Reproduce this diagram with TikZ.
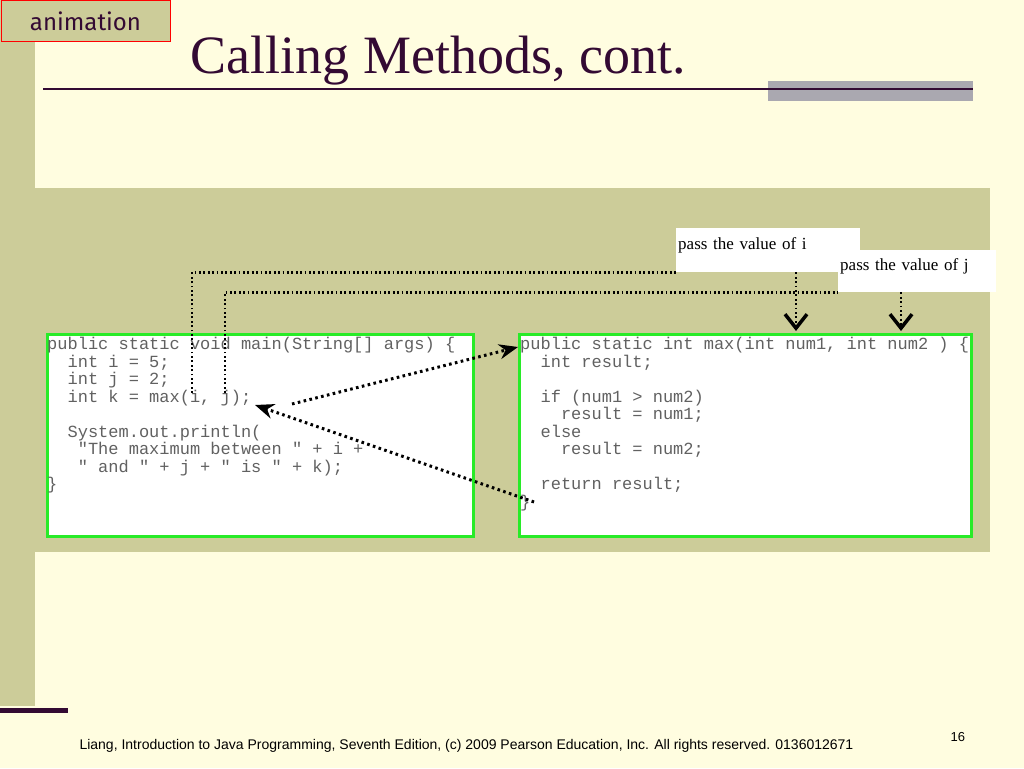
\documentclass[tikz,border=0pt]{standalone}
\usepackage{fontspec}
\setmainfont{Liberation Serif}
\setmonofont{Liberation Mono}
\newfontfamily\footfont{Liberation Sans}
\newfontfamily\animfont{Fira Sans}
\usepackage{tikz}
\usetikzlibrary{arrows.meta,positioning}
\definecolor{slidebg}{RGB}{255,253,224}
\definecolor{bandolive}{RGB}{204,204,153}
\definecolor{titlepurple}{RGB}{51,10,51}
\definecolor{bargrey}{RGB}{170,168,176}
\definecolor{boxgreen}{RGB}{40,235,40}
\tikzset{
    %Define standard arrow tip
    >={Stealth[length=19pt,width=15pt]},
    %Define style for code boxes
    codebox/.style={
             rectangle,
             draw=boxgreen, line width=3pt,
             fill=white,
             minimum height=202pt,
             inner sep=0pt},
    codetext/.style={
             inner sep=0pt,
             align=left,
             text=black!62,
             font=\ttfamily\fontsize{17}{17.5}\selectfont},
    passnode/.style={
             fill=white,
             anchor=north west,
             inner xsep=2pt, inner ysep=0pt,
             align=left,
             font=\fontsize{17}{20}\selectfont},
    % Define arrow style
    passline/.style={
            line width=2.2pt,
            dash pattern=on 1.8pt off 2.6pt},
    passarrow/.style={
            passline,
            -{Straight Barb[length=14pt,width=22pt,line width=3.5pt]}},
    callarrow/.style={
            ->,
            line width=3pt,
            dash pattern=on 2.6pt off 3.4pt}
}
\begin{document}
\begin{tikzpicture}[x=1pt, y=-1pt]
 \useasboundingbox (0,0) rectangle (1024,768);
 % slide background
 \fill[slidebg] (0,0) rectangle (1024,768);
 \fill[bandolive] (0,0) rectangle (35,706);
 \fill[bandolive] (0,188) rectangle (990,552);
 \fill[bargrey] (768,81) rectangle (973,101);
 \draw[titlepurple, line width=2pt] (43,89) -- (973,89);
 \fill[titlepurple] (0,708) rectangle (68,713);
 \node[draw=red, line width=1pt, fill=bandolive, anchor=north west,
       minimum width=169pt, minimum height=41pt, text=titlepurple,
       font=\animfont\fontsize{24}{26}\selectfont] (anim) at (0.5,0.5) {animation};
 \node[anchor=base west, text=titlepurple, font=\fontsize{54}{60}\selectfont]
       (title) at (187,73) {Calling Methods, cont.};
 % code boxes
 \node[codebox, anchor=north west, minimum width=426pt] (mainbox) at (46,333) {};
 \node[codebox, right=43pt of mainbox, minimum width=452pt] (maxbox) {};
 \node[codetext, below right=4pt and 1pt of mainbox.north west] (maincode)
   {public static void main(String[] args) \{\\
    ~~int i = 5;\\
    ~~int j = 2;\\
    ~~int k = max(i, j);\\
    ~\\
    ~~System.out.println(\\
    ~~~"The maximum between " + i +\\
    ~~~" and " + j + " is " + k);\\
    \}};
 \node[codetext, below right=4pt and 2pt of maxbox.north west] (maxcode)
   {public static int max(int num1, int num2 ) \{\\
    ~~int result;\\
    ~\\
    ~~if (num1 > num2)\\
    ~~~~result = num1;\\
    ~~else\\
    ~~~~result = num2;\\
    ~\\
    ~~return result;\\
    \}};
 % labels
 \node[passnode, text width=180pt, text height=21pt, text depth=23pt] (ipass) at (676,228) {pass the value of i};
 \node[passnode, text width=154pt, text height=20pt, text depth=22pt] (jpass) at (838,250) {pass the value of j};
 \coordinate (iarg) at (192,393);
 \coordinate (jarg) at (225,393);
 \coordinate (itip) at (796,331);
 \coordinate (jtip) at (901,331);
 \coordinate (callfrom) at (292,404);
 \coordinate (retfrom) at (534,502);
 \coordinate (retto) at (255,405);
 \draw[passline] (iarg) |- (ipass.south west);
 \draw[passline] (jarg) |- (jpass.south west);
 \draw[passarrow] (itip |- ipass.south) -- (itip);
 \draw[passarrow] (jtip |- jpass.south) -- (jtip);
 \draw[callarrow] (callfrom) -- ([yshift=-14pt]maxbox.north west);
 \draw[callarrow] (retfrom) -- (retto);
 % footer
 \node[anchor=base west, font=\footfont\fontsize{14}{16}\selectfont] (foot) at (76,749)
   {Liang, Introduction to Java Programming, Seventh Edition, (c) 2009 Pearson Education, Inc. All rights reserved. 0136012671};
 \node[anchor=base west, font=\footfont\fontsize{13}{15}\selectfont] (pagenum) at (947,741) {16};
\end{tikzpicture}
\end{document}
